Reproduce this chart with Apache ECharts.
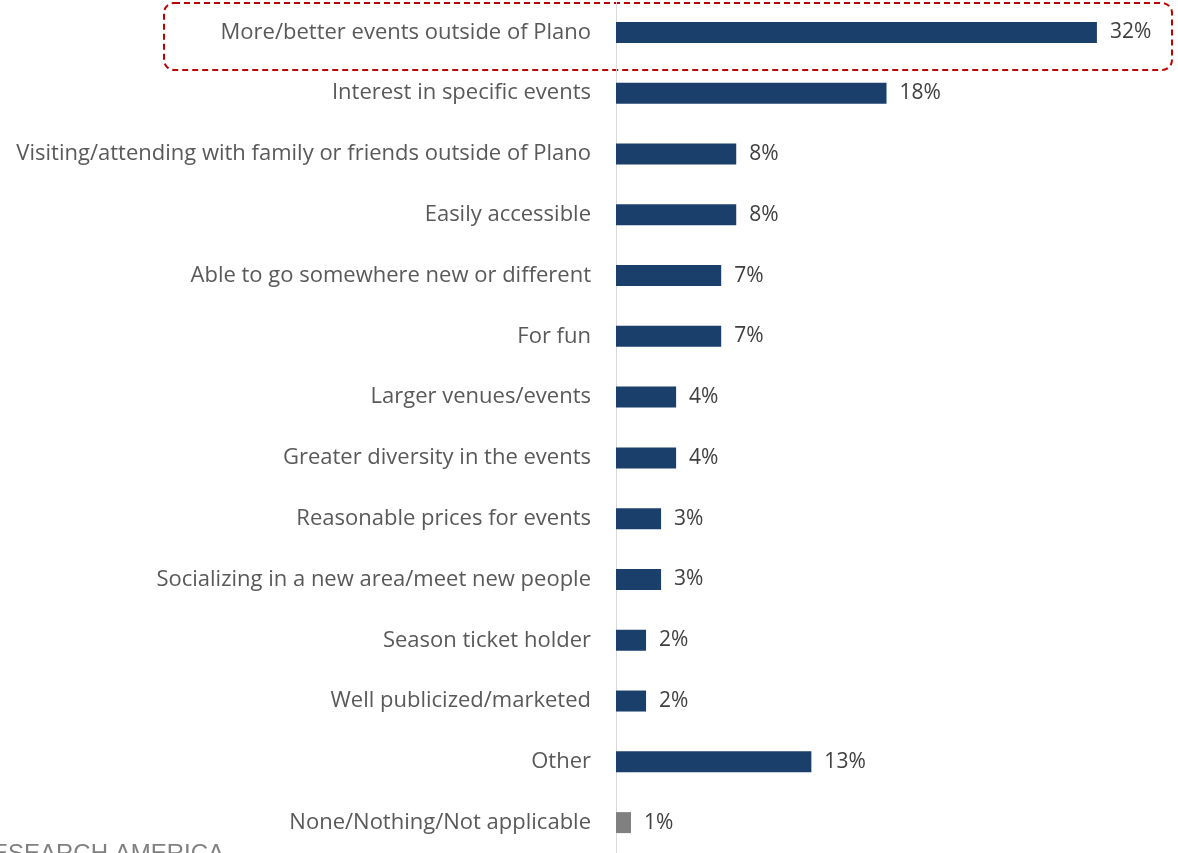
<!DOCTYPE html>
<html>
<head>
<meta charset="utf-8">
<script src="https://cdn.jsdelivr.net/npm/echarts@6/dist/echarts.min.js"></script>
<style>
html,body{margin:0;padding:0;background:#fff;}
#chart{width:1178px;height:853px;}
</style>
</head>
<body>
<div id="chart"></div>
<script>
const categories = [
  "More/better events outside of Plano",
  "Interest in specific events",
  "Visiting/attending with family or friends outside of Plano",
  "Easily accessible",
  "Able to go somewhere new or different",
  "For fun",
  "Larger venues/events",
  "Greater diversity in the events",
  "Reasonable prices for events",
  "Socializing in a new area/meet new people",
  "Season ticket holder",
  "Well publicized/marketed",
  "Other",
  "None/Nothing/Not applicable"
];
const values = [32, 18, 8, 8, 7, 7, 4, 4, 3, 3, 2, 2, 13, 1];
const grayCategory = "None/Nothing/Not applicable";

const chart = echarts.init(document.getElementById('chart'));
chart.setOption({
  animation: false,
  backgroundColor: '#ffffff',
  grid: { left: 616, top: 2, width: 526, height: 851, containLabel: false },
  xAxis: {
    type: 'value', min: 0, max: 35, show: false
  },
  yAxis: {
    type: 'category', data: categories, inverse: true,
    axisLine: { show: true, lineStyle: { color: '#d9d9d9', width: 1 } },
    axisTick: { show: false },
    axisLabel: {
      color: '#595959', fontFamily: 'Open Sans', fontSize: 22, margin: 25
    }
  },
  series: [{
    type: 'bar',
    data: values,
    barWidth: 21,
    itemStyle: {
      color: function (p) { return p.name === grayCategory ? '#808080' : '#1b3f6b'; }
    },
    label: {
      show: true, position: 'right', distance: 13,
      formatter: '{c}%', color: '#404040', fontFamily: 'Open Sans', fontSize: 21
    }
  }],
  graphic: [
    {
      type: 'rect',
      shape: { x: 164, y: 3, width: 1008, height: 67, r: 10 },
      style: { fill: 'none', stroke: '#c00000', lineWidth: 2, lineDash: [6, 4] }
    },
    {
      type: 'text', left: -8, top: 842,
      style: { text: 'ESEARCH AMERICA', fill: '#808080', font: '24px "Liberation Sans"' }
    }
  ]
});
</script>
</body>
</html>
